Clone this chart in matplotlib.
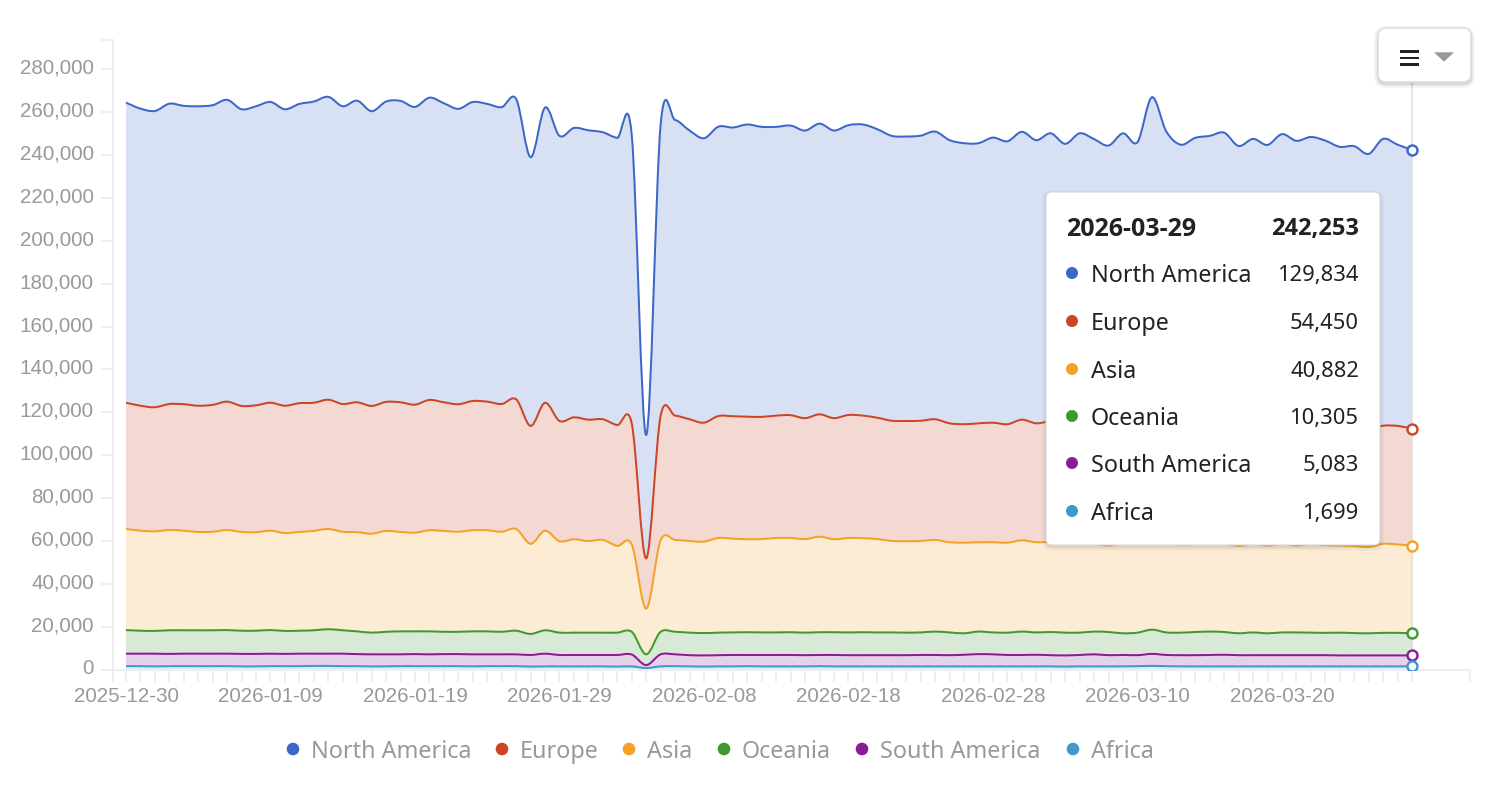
import numpy as np
import pandas as pd
import matplotlib
matplotlib.use('Agg')
import matplotlib.pyplot as plt
from matplotlib.path import Path
from matplotlib.patches import PathPatch, FancyBboxPatch, Circle, Polygon, Rectangle
from matplotlib.transforms import ScaledTranslation

dates = pd.date_range('2025-12-30', periods=90).strftime('%Y-%m-%d').tolist()
series_names = ['North America', 'Europe', 'Asia', 'Oceania', 'South America', 'Africa']
series_colors = ['#3c66c8', '#cc4525', '#f4a127', '#3f9a2e', '#8b1a96', '#3f9ac9']

# stacked totals: each list is the top of that band
north_america_top = [
    264300, 261500, 260400, 263800, 262800, 262600, 263100, 265600, 261200, 262600,
    264600, 261200, 263700, 264800, 267000, 262600, 265200, 260300, 264800, 265100,
    262300, 266600, 264000, 261400, 264600, 263700, 262200, 266000, 238900, 262000,
    248800, 252500, 251400, 250500, 247900, 249300, 109500, 254000, 256200, 251300,
    247700, 253100, 252700, 254100, 253000, 253000, 253600, 251300, 254500, 251300,
    253800, 254100, 251900, 248800, 248500, 248900, 250800, 246800, 245400, 245400,
    248000, 246300, 250700, 246800, 250000, 245100, 250000, 247300, 244300, 250000,
    245900, 266800, 250800, 244700, 247900, 248800, 250300, 244100, 247400, 244600,
    249600, 246500, 248300, 246600, 243700, 244000, 240400, 247400, 244700, 242253]
europe_top = [
    124500, 123100, 122400, 123900, 123800, 123100, 123500, 125000, 123000, 123300,
    124500, 123100, 124300, 124500, 125900, 123900, 124700, 123000, 124900, 124700,
    123600, 125800, 124700, 123800, 125300, 125000, 123900, 126100, 113700, 124500,
    116000, 117700, 116600, 116800, 114100, 114800, 52000, 118400, 118500, 116800,
    115200, 118300, 118200, 118000, 117900, 118500, 118700, 117300, 119100, 117300,
    118800, 118500, 117500, 116100, 116000, 116100, 116800, 114900, 114500, 114900,
    115200, 114500, 116600, 114900, 115800, 114300, 115700, 114900, 114000, 115500,
    114400, 122000, 115500, 113900, 114700, 115000, 115600, 113600, 114500, 113800,
    115200, 114200, 114800, 114300, 113400, 113500, 112200, 113800, 113700, 112419]
asia_top = [
    65700, 64900, 64600, 65200, 64900, 64300, 64400, 65200, 64300, 64200,
    64900, 63800, 64300, 64800, 65700, 64400, 64200, 63500, 64800, 64300,
    64000, 65100, 64800, 64400, 65100, 65100, 64400, 65700, 58800, 64900,
    60000, 60900, 60100, 60600, 57800, 58500, 28600, 60400, 60600, 60100,
    59800, 61500, 61200, 60900, 61000, 61500, 61500, 61000, 62100, 60900,
    61500, 61400, 61000, 60100, 60000, 60100, 60600, 59500, 59300, 59500,
    59500, 59300, 60400, 59500, 59600, 58700, 59400, 58900, 58000, 59200,
    58700, 59600, 59200, 58500, 58700, 58700, 58900, 57900, 58700, 58000,
    58700, 58000, 58700, 58200, 58000, 57800, 57400, 58800, 58500, 57969]
oceania_top = [
    18600, 18300, 18200, 18500, 18500, 18500, 18500, 18600, 18300, 18300,
    18600, 18200, 18300, 18500, 19000, 18500, 18000, 17400, 17800, 18000,
    18000, 18000, 17800, 17800, 18000, 18000, 17800, 18300, 16800, 18500,
    17400, 17400, 17400, 17400, 17400, 17800, 7300, 17800, 17800, 17400,
    17200, 17400, 17500, 17600, 17500, 17500, 17600, 17400, 17600, 17600,
    17500, 17600, 17500, 17500, 17400, 17500, 17900, 17500, 17100, 17900,
    17500, 17400, 17900, 17500, 17700, 17400, 17400, 17900, 17700, 17100,
    17400, 18800, 17500, 17400, 17700, 17900, 17700, 17100, 17500, 17100,
    17500, 17500, 17400, 17300, 17400, 17200, 17100, 17300, 17300, 17087]
south_america_top = [
    7600, 7600, 7600, 7500, 7600, 7600, 7600, 7600, 7500, 7500,
    7600, 7500, 7600, 7600, 7600, 7600, 7400, 7300, 7300, 7300,
    7400, 7300, 7400, 7400, 7300, 7300, 7300, 7300, 7000, 7600,
    7000, 7000, 7000, 7000, 7000, 7200, 2300, 7300, 7300, 6900,
    6800, 6900, 7000, 7000, 7000, 7000, 7000, 6900, 7000, 7000,
    6900, 6900, 6900, 6900, 6900, 7000, 7000, 6900, 7100, 7400,
    7300, 7000, 7000, 7100, 6900, 6800, 7000, 7300, 6900, 7000,
    6900, 7500, 7000, 6900, 6900, 7000, 7100, 6900, 6900, 6900,
    6900, 6900, 6900, 6900, 6800, 6800, 6800, 6800, 6800, 6782]
africa_top = [
    1800, 1800, 1700, 1800, 1800, 1800, 1800, 1800, 1700, 1700,
    1800, 1800, 1800, 1900, 1900, 1800, 1800, 1700, 1700, 1800,
    1800, 1800, 1800, 1800, 1700, 1800, 1800, 1800, 1600, 1700,
    1700, 1700, 1700, 1700, 1600, 1700, 900, 1700, 1800, 1700,
    1600, 1700, 1700, 1800, 1700, 1700, 1700, 1700, 1800, 1700,
    1700, 1700, 1700, 1700, 1700, 1700, 1700, 1700, 1700, 1700,
    1700, 1700, 1700, 1700, 1700, 1600, 1700, 1700, 1700, 1700,
    1800, 1900, 1800, 1700, 1700, 1700, 1700, 1700, 1700, 1700,
    1700, 1700, 1700, 1700, 1700, 1700, 1700, 1700, 1700, 1699]
stack_tops = [north_america_top, europe_top, asia_top, oceania_top, south_america_top, africa_top]

y_ticks = list(range(0, 280001, 20000))
y_top = 293700

LABEL_GREY = '#999999'
AXIS_GREY = '#eeeeee'
PX = 0.72  # one pixel in points at dpi 100


# Catmull-Rom curve through the daily points, as bezier segments
def curve_parts(x, y):
    x = np.asarray(x, dtype=float)
    y = np.asarray(y, dtype=float)
    px = np.r_[x[0], x, x[-1]]
    py = np.r_[y[0], y, y[-1]]
    verts = [(x[0], y[0])]
    for i in range(len(x) - 1):
        c1 = (px[i + 1] + (px[i + 2] - px[i]) / 6, py[i + 1] + (py[i + 2] - py[i]) / 6)
        c2 = (px[i + 2] - (px[i + 3] - px[i + 1]) / 6, py[i + 2] - (py[i + 3] - py[i + 1]) / 6)
        verts += [c1, c2, (x[i + 1], y[i + 1])]
    return verts


def curve_path(x, y):
    verts = curve_parts(x, y)
    return Path(verts, [Path.MOVETO] + [Path.CURVE4] * (len(verts) - 1))


def band_path(x, upper, lower):
    top = curve_parts(x, upper)
    bottom = curve_parts(x, lower)[::-1]
    verts = top + bottom + [top[0]]
    codes = [Path.MOVETO] + [Path.CURVE4] * (len(top) - 1) + [Path.LINETO] \
        + [Path.CURVE4] * (len(bottom) - 1) + [Path.CLOSEPOLY]
    return Path(verts, codes)


fig = plt.figure(figsize=(14.86, 7.9), dpi=100, facecolor='white')
ax = fig.add_axes([112.7 / 1486, 120 / 790, 1357.1 / 1486, 630.5 / 790])
days = np.arange(len(dates))

for i, top in enumerate(stack_tops):
    lower = stack_tops[i + 1] if i + 1 < len(stack_tops) else np.zeros(len(dates))
    ax.add_patch(PathPatch(band_path(days, top, lower), facecolor=series_colors[i],
                           alpha=0.2, edgecolor='none', zorder=1))

ax.axvline(days[-1], color='#dddddd', lw=1.5 * PX, zorder=2)

for i, top in enumerate(stack_tops):
    ax.add_patch(PathPatch(curve_path(days, top), facecolor='none',
                           edgecolor=series_colors[i], lw=2 * PX, zorder=3))
    ax.plot(days[-1], top[-1], 'o', ms=10 * PX, mfc='white', mec=series_colors[i],
            mew=2.4 * PX, zorder=4)

ax.set_xlim(-0.92, 93)
ax.set_ylim(0, y_top)
for side in ['top', 'right']:
    ax.spines[side].set_visible(False)
for side in ['left', 'bottom']:
    ax.spines[side].set_color(AXIS_GREY)
    ax.spines[side].set_linewidth(2 * PX)

x_tick_pos = [-0.92] + list(days) + [93]
x_tick_text = [''] + [d if i % 10 == 0 else '' for i, d in enumerate(dates)] + ['']
ax.set_xticks(x_tick_pos)
ax.set_xticklabels(x_tick_text, family='Liberation Sans', fontsize=14.9, color=LABEL_GREY)
ax.set_yticks(y_ticks + [y_top])
ax.set_yticklabels([f'{v:,}' for v in y_ticks] + [''], family='Liberation Sans',
                   fontsize=14.9, color=LABEL_GREY)
ax.tick_params(axis='both', length=12 * PX, width=2 * PX, color=AXIS_GREY)
ax.tick_params(axis='x', pad=3.5)
ax.tick_params(axis='y', pad=5)
# the value labels sit a little above their ticks
for label in ax.get_yticklabels():
    label.set_transform(label.get_transform() + ScaledTranslation(0, 3 / 100, fig.dpi_scale_trans))

# legend, tooltip and menu button sit on an overlay measured in pixels
ui = fig.add_axes([0, 0, 1, 1], zorder=10)
ui.set_xlim(0, 1486)
ui.set_ylim(790, 0)
ui.axis('off')
ui.patch.set_alpha(0)

legend_dot_x = [293, 502, 629, 724, 862, 1073]
for name, color, dot_x in zip(series_names, series_colors, legend_dot_x):
    ui.add_patch(Circle((dot_x, 749), 6.3, facecolor=color, edgecolor='none'))
    ui.text(dot_x + 18, 749, name, family='Noto Sans', fontsize=16.8, color=LABEL_GREY,
            va='center_baseline', ha='left')


def rounded_box(x0, y0, x1, y1, radius, **kwargs):
    return FancyBboxPatch((x0 + radius, y0 + radius), x1 - x0 - 2 * radius, y1 - y0 - 2 * radius,
                          boxstyle=f'round,pad={radius},rounding_size={radius}', **kwargs)


for grow, alpha in [(4, 0.02), (2.5, 0.035), (1, 0.05)]:
    ui.add_patch(rounded_box(1046 - grow, 192 - grow + 2, 1380 + grow, 545 + grow + 2, 6 + grow,
                             facecolor='black', edgecolor='none', alpha=alpha))
ui.add_patch(rounded_box(1046, 192, 1380, 545, 6, facecolor='white', edgecolor='#d3d6de', lw=PX))

band_values = [stack_tops[i][-1] - (stack_tops[i + 1][-1] if i + 1 < len(stack_tops) else 0)
               for i in range(len(stack_tops))]
TIP_INK = '#222222'
ui.text(1066, 226, dates[-1], family='Open Sans', fontsize=18, fontweight='bold',
        color=TIP_INK, va='center_baseline')
ui.text(1359, 226, f'{north_america_top[-1]:,}', family='Open Sans', fontsize=17,
        fontweight='bold', color=TIP_INK, va='center_baseline', ha='right')
tip_rows = [273, 321, 369, 416, 463, 511]
for name, color, value, row in zip(series_names, series_colors, band_values, tip_rows):
    ui.add_patch(Circle((1072, row), 6, facecolor=color, edgecolor='none'))
    ui.text(1091, row, name, family='Noto Sans', fontsize=16.8, color=TIP_INK,
            va='center_baseline')
    ui.text(1359, row, f'{value:,}', family='Noto Sans', fontsize=15.8, color=TIP_INK,
            va='center_baseline', ha='right')

for grow, alpha in [(4, 0.03), (2.5, 0.05), (1, 0.08)]:
    ui.add_patch(rounded_box(1378 - grow, 28 - grow + 2, 1471 + grow, 82 + grow + 2, 8 + grow,
                             facecolor='black', edgecolor='none', alpha=alpha))
ui.add_patch(rounded_box(1378, 28, 1471, 82, 8, facecolor='white', edgecolor='#dddddd', lw=1.5 * PX))
for bar_y in [50, 56.7, 63.3]:
    ui.add_patch(Rectangle((1400, bar_y), 19, 2.7, facecolor='#222222', edgecolor='none'))
ui.add_patch(Polygon([(1434, 52.3), (1454, 52.3), (1444, 61.7)], facecolor='#999999', edgecolor='none'))

fig.savefig('out.png', dpi=100)
